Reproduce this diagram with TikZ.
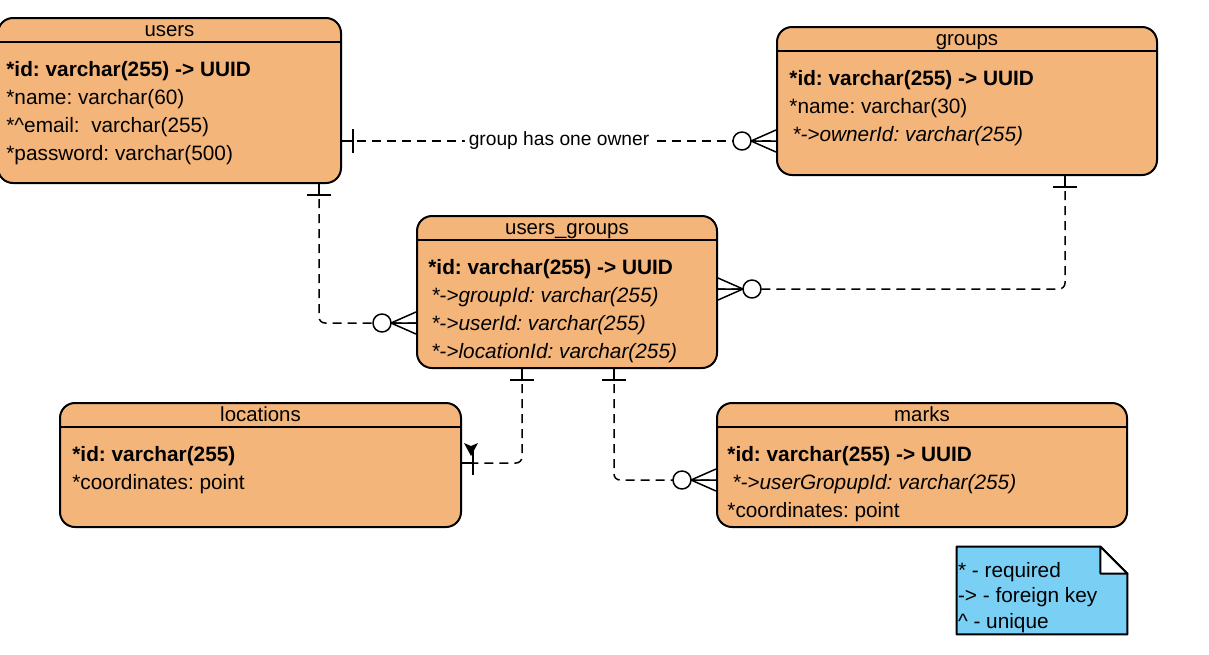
\documentclass[tikz,border=0pt]{standalone}
\usepackage{fontspec}
\setmainfont{Liberation Sans}
\usetikzlibrary{positioning,calc,fit}

\definecolor{tablefill}{HTML}{F4B57B}
\definecolor{notefill}{HTML}{7ACFF5}
\frenchspacing

\begin{document}
\begin{tikzpicture}[x=0.5pt, y=-0.5pt, line join=round,
        table/.style={draw=black, fill=tablefill, line width=1pt, rounded corners=7.5pt, inner sep=0pt},
        title/.style={inner sep=0pt, text height=7.5pt, text depth=2pt, font=\fontsize{10.2pt}{12pt}\selectfont},
        row/.style={anchor=base west, inner sep=0pt, font=\fontsize{10.4pt}{12pt}\selectfont},
        key/.style={row, font=\fontsize{10.4pt}{12pt}\selectfont\bfseries},
        fk/.style={row, font=\fontsize{10.4pt}{12pt}\selectfont\itshape},
        hline/.style={line width=0.75pt},
        rel/.style={line width=0.75pt, dash pattern=on 4.5pt off 3pt, rounded corners=3pt},
        rellabel/.style={fill=white, inner xsep=2pt, inner ysep=0pt, font=\fontsize{9.6pt}{11pt}\selectfont},
        onebar/.pic={\draw[line width=0.75pt] (0,0) -- (11,0) (11,-12) -- (11,12);},
        zeromany/.pic={\draw[line width=0.75pt] (0,-11) -- (25,0) -- (0,11) (0,0) -- (25,0);
            \draw[line width=0.75pt, fill=white] (34,0) circle[radius=9];}]
        \useasboundingbox (0,0) rectangle (1209,654);

        % tables
        \node[table, fit={(-2,18) (341,183)}]      (users) {};
        \node[table, fit={(777,27) (1157,175)}]    (groups) {};
        \node[table, fit={(417,216) (717,368)}]    (ug) {};
        \node[table, fit={(60,403) (461,527)}]     (locations) {};
        \node[table, fit={(717,403) (1127,527)}]   (marks) {};

        % headers
        \node[title] (users-t) at ($(users.north)+(0,13.5)$) {users};
        \node[title] (groups-t) at ($(groups.north)+(0,13.5)$) {groups};
        \node[title] (ug-t) at ($(ug.north)+(0,13.5)$) {users\_groups};
        \node[title] (locations-t) at ($(locations.north)+(0,13.5)$) {locations};
        \node[title] (marks-t) at ($(marks.north)+(0,13.5)$) {marks};
        \foreach \t in {users,groups,ug,locations,marks}
            \draw[hline] ($(\t.north west)+(0,25)$) -- ($(\t.north east)+(0,25)$);

        % users
        \node[key] (users-1) at ($(users.north west)+(9,59)$)  {*id: varchar(255) -> UUID};
        \node[row] (users-2) at ($(users.north west)+(9,87)$)  {*name: varchar(60)};
        \node[row] (users-3) at ($(users.north west)+(9,115)$) {*\textasciicircum email:\ \ varchar(255)};
        \node[row] (users-4) at ($(users.north west)+(9,143)$) {*password: varchar(500)};
        % groups
        \node[key] (groups-1) at ($(groups.north west)+(13,59)$) {*id: varchar(255) -> UUID};
        \node[row] (groups-2) at ($(groups.north west)+(13,87)$) {*name: varchar(30)};
        \node[fk]  (groups-3) at ($(groups.north west)+(16,115)$) {*->ownerId: varchar(255)};
        % users_groups
        \node[key] (ug-1) at ($(ug.north west)+(12,59)$)  {*id: varchar(255) -> UUID};
        \node[fk]  (ug-2) at ($(ug.north west)+(15,87)$)  {*->groupId: varchar(255)};
        \node[fk]  (ug-3) at ($(ug.north west)+(15,115)$) {*->userId: varchar(255)};
        \node[fk]  (ug-4) at ($(ug.north west)+(15,143)$) {*->locationId: varchar(255)};
        % locations
        \node[key] (locations-1) at ($(locations.north west)+(13,59)$) {*id: varchar(255)};
        \node[row] (locations-2) at ($(locations.north west)+(13,87)$) {*coordinates: point};
        % marks
        \node[key] (marks-1) at ($(marks.north west)+(11,59)$)  {*id: varchar(255) -> UUID};
        \node[fk]  (marks-2) at ($(marks.north west)+(16,87)$)  {*->userGropupId: varchar(255)};
        \node[row] (marks-3) at ($(marks.north west)+(11,115)$) {*coordinates: point};

        % legend
        \node[fit={(957,547) (1127,634)}, inner sep=0pt] (note) {};
        \draw[line width=1pt, fill=notefill] (note.north west) -- ($(note.north east)+(-27,0)$)
            -- ($(note.north east)+(0,27)$) -- (note.south east) -- (note.south west) -- cycle;
        \draw[line width=1pt, fill=white] ($(note.north east)+(-27,0)$) -- ($(note.north east)+(-27,27)$)
            -- ($(note.north east)+(0,27)$) -- cycle;
        \node[row] (note-1) at ($(note.north west)+(1,31)$) {* - required};
        \node[row] (note-2) at ($(note.north west)+(1,56)$) {-> - foreign key};
        \node[row] (note-3) at ($(note.north west)+(1,82)$) {\textasciicircum\ - unique};

        % relations
        \coordinate (own-u) at ($(users.south east)+(0,-43)$);
        \coordinate (own-g) at (own-u -| groups.west);
        \coordinate (ug-u) at ($(users.south west)+(322,0)$);
        \coordinate (ug-l) at ($(ug.north west)+(0,108)$);
        \coordinate (ug-g) at ($(groups.south west)+(289,0)$);
        \coordinate (ug-r) at ($(ug.north east)+(0,74)$);
        \coordinate (loc-ug) at ($(ug.south west)+(106,0)$);
        \coordinate (loc-l) at ($(locations.north east)+(0,61)$);
        \coordinate (mk-ug) at ($(ug.south west)+(198,0)$);
        \coordinate (mk-m) at ($(marks.north west)+(0,78)$);

        \draw[rel] (own-u) -- node[rellabel] {group has one owner} (own-g);
        \draw[rel] (ug-u) |- (ug-l);
        \draw[rel] (ug-g) |- (ug-r);
        \draw[rel] (loc-ug) |- (loc-l);
        \draw[rel] (mk-ug) |- (mk-m);

        \pic at (own-u) {onebar};
        \pic[rotate=180] at (own-g) {zeromany};
        \pic[rotate=-90] at (ug-u) {onebar};
        \pic[rotate=180] at (ug-l) {zeromany};
        \pic[rotate=-90] at (ug-g) {onebar};
        \pic at (ug-r) {zeromany};
        \pic[rotate=-90] at (loc-ug) {onebar};
        \pic at (loc-l) {onebar};
        \fill ($(loc-l)+(2,-20)$) -- ($(loc-l)+(9,-17)$) -- ($(loc-l)+(16,-20)$) -- ($(loc-l)+(9,-7)$) -- cycle;
        \pic[rotate=-90] at (mk-ug) {onebar};
        \pic[rotate=180] at (mk-m) {zeromany};
\end{tikzpicture}
\end{document}
